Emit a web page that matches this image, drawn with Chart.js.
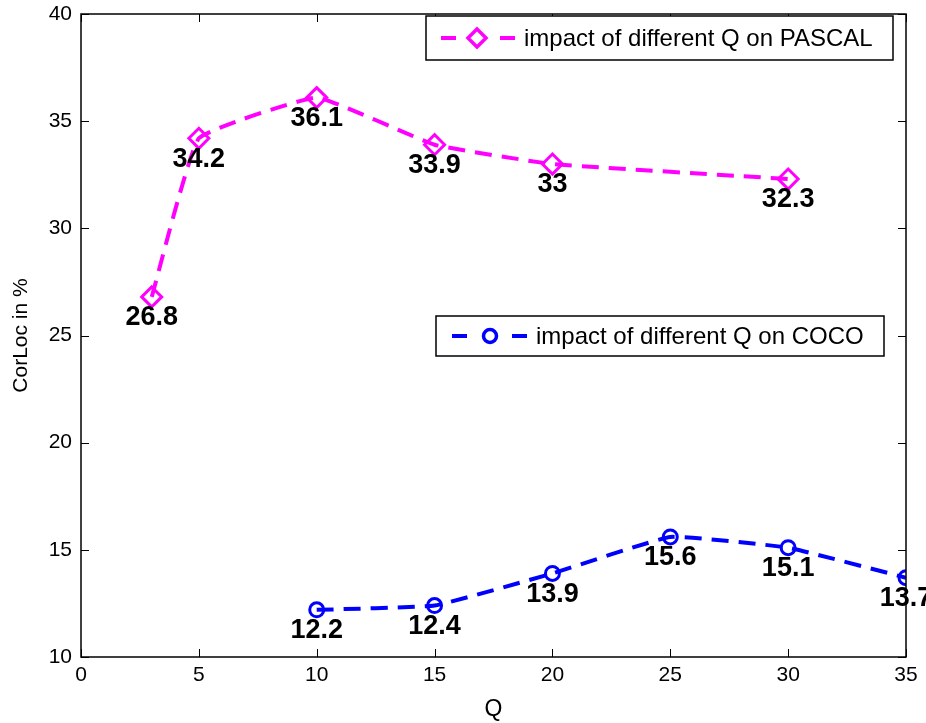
<!DOCTYPE html>
<html><head><meta charset="utf-8">
<script src="https://cdn.jsdelivr.net/npm/chart.js@4/dist/chart.umd.min.js"></script>
<style>html,body{margin:0;padding:0;background:#fff}#wrap{width:926px;height:723px}</style>
</head><body><div id="wrap"><canvas id="c" width="926" height="723"></canvas></div>
<script>
const pascalQ = [3, 5, 10, 15, 20, 30];
const pascalVals = [26.8, 34.2, 36.1, 33.9, 33, 32.3];
const cocoQ = [10, 15, 20, 25, 30, 35];
const cocoVals = [12.2, 12.4, 13.9, 15.6, 15.1, 13.7];
const xTicks = [0, 5, 10, 15, 20, 25, 30, 35];
const yTicks = [10, 15, 20, 25, 30, 35, 40];
const pascalLabel = 'impact of different Q on PASCAL';
const cocoLabel = 'impact of different Q on COCO';

const FONT = '"Liberation Sans", Arial, Helvetica, sans-serif';
const MAG = '#ff00ff', BLUE = '#0000ff';

const boxPlugin = {
  id: 'box',
  afterDatasetsDraw(chart) {
    const {ctx, chartArea: a, scales: {x, y}} = chart;
    ctx.save();
    // data labels
    ctx.font = 'bold 27px ' + FONT;
    ctx.fillStyle = '#000';
    ctx.textAlign = 'center';
    ctx.textBaseline = 'middle';
    chart.data.datasets.forEach((ds, i) => {
      const meta = chart.getDatasetMeta(i);
      meta.data.forEach((pt, j) => {
        ctx.fillText(String(ds.data[j].y), pt.x, pt.y + 21);
      });
    });
    // box
    ctx.strokeStyle = '#000';
    ctx.lineWidth = 1.5;
    ctx.strokeRect(a.left, a.top, a.right - a.left, a.bottom - a.top);
    ctx.lineWidth = 1;
    ctx.beginPath();
    xTicks.forEach(v => {
      const px = Math.round(x.getPixelForValue(v)) + 0.5;
      ctx.moveTo(px, a.bottom); ctx.lineTo(px, a.bottom - 8);
      ctx.moveTo(px, a.top); ctx.lineTo(px, a.top + 8);
    });
    yTicks.forEach(v => {
      const py = Math.round(y.getPixelForValue(v)) + 0.5;
      ctx.moveTo(a.left, py); ctx.lineTo(a.left + 8, py);
      ctx.moveTo(a.right, py); ctx.lineTo(a.right - 8, py);
    });
    ctx.stroke();
    // legends
    function legend(x0, y0, x1, y1, color, style, text, d1, mx, d2, tx) {
      ctx.fillStyle = '#fff';
      ctx.fillRect(x0, y0, x1 - x0, y1 - y0);
      ctx.strokeStyle = '#000';
      ctx.lineWidth = 1.5;
      ctx.strokeRect(x0, y0, x1 - x0, y1 - y0);
      const cy = (y0 + y1) / 2;
      ctx.strokeStyle = color;
      ctx.lineWidth = 4;
      ctx.beginPath();
      ctx.moveTo(d1, cy); ctx.lineTo(d1 + 15, cy);
      ctx.moveTo(d2, cy); ctx.lineTo(d2 + 15, cy);
      ctx.stroke();
      ctx.lineWidth = 3.5;
      ctx.beginPath();
      if (style === 'diamond') {
        ctx.moveTo(mx, cy - 9); ctx.lineTo(mx + 9, cy); ctx.lineTo(mx, cy + 9); ctx.lineTo(mx - 9, cy); ctx.closePath();
      } else {
        ctx.arc(mx, cy, 6.5, 0, Math.PI * 2);
      }
      ctx.stroke();
      ctx.fillStyle = '#000';
      ctx.font = '24px ' + FONT;
      ctx.textAlign = 'left';
      ctx.textBaseline = 'middle';
      ctx.fillText(text, tx, cy + 1);
    }
    legend(426, 16, 893, 60, MAG, 'diamond', pascalLabel, 441, 477, 500, 524);
    legend(436, 316, 884, 356, BLUE, 'circle', cocoLabel, 452, 490, 512, 536);
    ctx.restore();
  }
};

new Chart(document.getElementById('c'), {
  type: 'line',
  data: {
    datasets: [
      {
        label: pascalLabel,
        data: pascalQ.map((q, i) => ({x: q, y: pascalVals[i]})),
        borderColor: MAG, backgroundColor: '#fff',
        borderWidth: 4, borderDash: [17, 10],
        pointStyle: 'rectRot', pointRadius: 10, pointBorderWidth: 3,
        pointBorderColor: MAG, pointBackgroundColor: 'rgba(255,255,255,0)',
        tension: 0.1
      },
      {
        label: cocoLabel,
        data: cocoQ.map((q, i) => ({x: q, y: cocoVals[i]})),
        borderColor: BLUE, backgroundColor: '#fff',
        borderWidth: 4, borderDash: [17, 10],
        pointStyle: 'circle', pointRadius: 7, pointBorderWidth: 3,
        pointBorderColor: BLUE, pointBackgroundColor: 'rgba(255,255,255,0)',
        tension: 0.1
      }
    ]
  },
  options: {
    responsive: false,
    animation: false,
    devicePixelRatio: 1,
    layout: {padding: {top: 14, right: 20, left: 0, bottom: 0}},
    plugins: {legend: {display: false}, tooltip: {enabled: false}},
    scales: {
      x: {
        type: 'linear', min: 0, max: 35,
        afterBuildTicks(s) { s.ticks = xTicks.map(v => ({value: v})); },
        afterFit(s) { s.height = 66; s.paddingLeft = 0; s.paddingRight = 0; },
        grid: {display: false, drawTicks: false},
        border: {display: false},
        ticks: {color: '#000', font: {family: FONT, size: 21}, padding: 6, maxRotation: 0},
        title: {display: true, text: 'Q', color: '#000', font: {family: FONT, size: 23}, padding: {top: 2, bottom: 0}}
      },
      y: {
        type: 'linear', min: 10, max: 40,
        afterBuildTicks(s) { s.ticks = yTicks.map(v => ({value: v})); },
        afterFit(s) { s.width = 81; s.paddingTop = 0; s.paddingBottom = 0; },
        grid: {display: false, drawTicks: false},
        border: {display: false},
        ticks: {color: '#000', font: {family: FONT, size: 21}, padding: 9},
        title: {display: true, text: 'CorLoc in %', color: '#000', font: {family: FONT, size: 21}, padding: {top: 9, bottom: 8}}
      }
    }
  },
  plugins: [boxPlugin]
});
</script>
</body></html>
